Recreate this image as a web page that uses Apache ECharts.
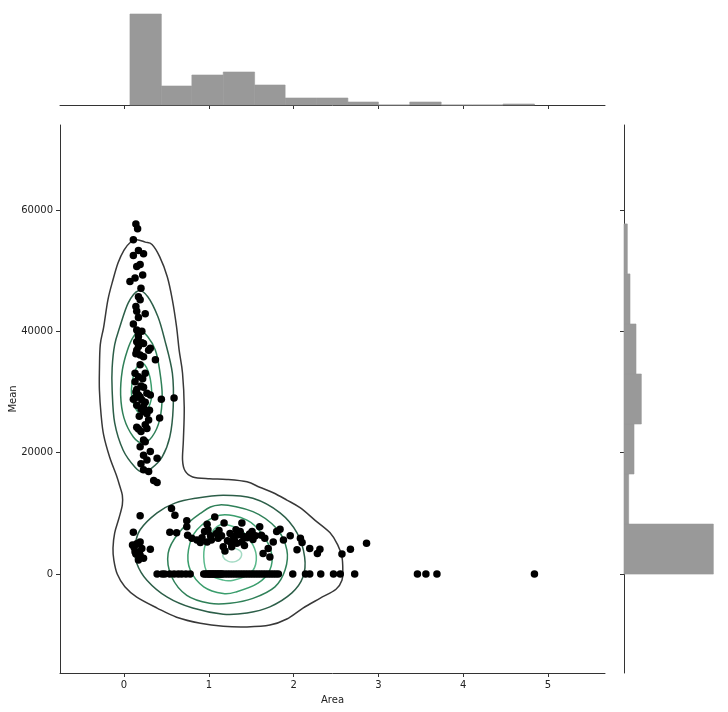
<!DOCTYPE html>
<html>
<head>
<meta charset="utf-8">
<script src="https://cdn.jsdelivr.net/npm/echarts@6/dist/echarts.min.js"></script>
<style>
  html, body { margin: 0; padding: 0; background: #fff; }
  #chart { width: 728px; height: 712px; }
</style>
</head>
<body>
<div id="chart"></div>
<script>
// axis ticks
const areaTicks = [0, 1, 2, 3, 4, 5];
const meanTicks = [0, 20000, 40000, 60000];

// marginal histograms (bin edges + counts)
const areaBinEdges = [0.07, 0.44, 0.80, 1.17, 1.54, 1.90, 2.27, 2.64, 3.00, 3.37, 3.74, 4.11, 4.47, 4.84];
const areaBinCounts = [91, 19, 30, 33, 20, 7, 7, 3, 0, 3, 0, 0, 1];
const meanBinEdges = [0, 8240, 16490, 24730, 32970, 41210, 49460, 57700];
const meanBinCounts = [134, 7, 15, 26, 18, 9, 5];

// scatter points [Area, Mean]
const lobePoints = [
  [0.14,57700],[0.16,56900],[0.11,55100],[0.17,53300],[0.23,52800],[0.11,52500],[0.19,51000],[0.15,50700],
  [0.22,49300],[0.13,48800],[0.07,48200],[0.20,47100],[0.17,45700],[0.19,45200],[0.14,44100],[0.15,43300],
  [0.25,42900],[0.17,42300],[0.11,41200],[0.15,40200],[0.21,40000],[0.17,39100],[0.15,38300],[0.21,38100],
  [0.17,37500],[0.31,37200],[0.23,38000],[0.15,36900],[0.29,36900],[0.19,36100],[0.14,36300],[0.37,35300],
  [0.13,33100],[0.25,33100],[0.13,31700],[0.15,30400],[0.27,29800],[0.17,29500],[0.31,29500],[0.11,28800],
  [0.21,28700],[0.44,28800],[0.59,29000],[0.23,27600],[0.23,26800],[0.42,25700],[0.29,25400],[0.25,24600],
  [0.15,24200],[0.27,24000],[0.17,23900],[0.23,22100],[0.19,21000],[0.31,20200],[0.23,19600],[0.39,19100],
  [0.27,18800],[0.23,17200],[0.29,16900],[0.35,15400],[0.39,15100],
  [0.17,32500],[0.20,31000],[0.14,30000],[0.23,30800],[0.19,29200],[0.25,28300],[0.15,27800],[0.20,27200],
  [0.27,26400],[0.13,29000],[0.22,32200],[0.18,26000],[0.30,27000],[0.20,23500],[0.25,21800],[0.20,18200],
  [0.19,34500],[0.23,35800],[0.17,39600]
];
const lowLeftPoints = [
  [0.19,9600],[0.11,6900],[0.10,4800],[0.19,5300],[0.31,4100],[0.13,3700],[0.19,3100],[0.23,2600],
  [0.17,2300],[0.12,4400],[0.15,5000],[0.14,3300],[0.21,4200],[0.18,3600],[0.56,10800],[0.60,9700],
  [0.54,6900],[0.62,6800]
];
const clusterPoints = [
  [0.74,8800],[0.74,7800],[0.75,6400],[0.80,5900],[0.86,5600],[0.98,8200],[1.07,9400],[1.18,8400],
  [0.99,7300],[0.98,5300],[1.03,5600],[1.09,6700],[1.11,5900],[1.17,4500],[1.19,3800],[1.25,6700],
  [1.29,6200],[1.33,5100],[1.27,4500],[1.39,8400],[1.37,7000],[1.41,6200],[1.39,5300],[1.51,7000],
  [1.52,5700],[1.60,7800],[1.62,6400],[1.66,5900],[1.64,3400],[1.72,2800],[1.76,5300],[1.70,4200],
  [1.80,7000],[1.84,7400],[1.88,5600],[1.96,6300],[2.04,4000],[2.08,5900],[2.10,5200],[2.19,4200],
  [2.28,3400],[2.31,4100],[2.57,3300],[2.67,4100],[2.86,5100],
  [1.30,5700],[1.35,6500],[1.45,6000],[1.22,5500],[1.32,7300],[1.48,6600],[1.26,5200],[1.42,4700],
  [1.15,6300],[1.55,6300],[0.92,6000],[0.95,7000],[1.02,6300],[1.12,7200],[0.90,5200]
];
// points lying on Mean = 0
const zeroRowArea = [
  0.39,0.45,0.48,0.54,0.59,0.64,0.68,0.73,0.78,
  0.94,0.96,0.98,1.00,1.01,1.03,1.04,1.06,1.07,1.09,1.10,1.12,1.13,1.15,1.16,1.19,1.22,1.25,1.28,1.31,
  1.34,1.37,1.40,1.43,1.46,1.49,1.52,1.55,1.58,1.61,1.64,1.67,1.70,1.73,1.76,1.79,1.82,
  1.99,2.14,2.19,2.32,2.47,2.55,2.72,3.46,3.56,3.69,4.84
];

// KDE contour lines [Area, Mean], closed loops
const contourOuter = [
  [0.15,55100],[0.25,54700],[0.33,54300],[0.42,52300],[0.51,49000],[0.57,45200],[0.62,40700],[0.65,36900],
  [0.69,33100],[0.71,27500],[0.70,22100],[0.69,18800],[0.72,17000],[0.81,16000],[1.01,15700],[1.21,15600],
  [1.45,15200],[1.60,14300],[1.76,13400],[1.92,12200],[2.08,10900],[2.25,8900],[2.43,6800],[2.52,4800],
  [2.57,2800],[2.58,700],[2.57,-1000],[2.50,-2500],[2.31,-4000],[2.11,-5600],[1.92,-7400],[1.72,-8400],
  [1.45,-8700],[1.17,-8600],[0.90,-8100],[0.62,-7100],[0.39,-5600],[0.15,-3800],[0.01,-2100],[-0.08,0],
  [-0.12,2300],[-0.13,4300],[-0.11,6800],[-0.06,9200],[-0.02,11400],[-0.02,13000],[-0.05,14500],[-0.09,16300],
  [-0.17,19300],[-0.24,22900],[-0.27,26200],[-0.29,30300],[-0.29,33600],[-0.28,37800],[-0.24,40700],
  [-0.19,45200],[-0.13,48500],[-0.07,51300],[0.00,53400],[0.07,54600]
];
const contourLobe2 = [
  [0.17,46700],[0.28,45700],[0.40,42400],[0.48,38600],[0.57,33100],[0.58,27500],[0.54,22600],[0.45,19300],
  [0.33,17500],[0.22,16800],[0.13,17600],[-0.01,20400],[-0.11,24900],[-0.14,30300],[-0.14,34000],
  [-0.11,37800],[-0.05,40700],[0.05,44700]
];
const contourLobe3 = [
  [0.19,40100],[0.28,39100],[0.37,36900],[0.42,33600],[0.45,29500],[0.42,25400],[0.33,22600],[0.22,21600],
  [0.11,22600],[0.00,25700],[-0.04,29500],[-0.02,33600],[0.04,36900],[0.11,39100]
];
const contourLobe4 = [
  [0.21,34800],[0.28,33600],[0.32,31200],[0.32,28700],[0.27,27000],[0.21,26400],[0.14,27200],[0.09,29400],
  [0.10,32000],[0.14,33800]
];
const contourBase2 = [
  [1.17,13000],[1.52,12500],[1.84,10100],[2.04,6800],[2.13,2800],[2.11,-500],[1.98,-3100],[1.72,-5400],
  [1.45,-6400],[1.17,-6600],[0.81,-5600],[0.51,-3800],[0.27,-1000],[0.15,1800],[0.13,4500],[0.19,7300],
  [0.39,10100],[0.60,11700],[0.84,12500]
];
const contourBase3 = [
  [1.13,11400],[1.52,10300],[1.80,7500],[1.92,4000],[1.90,700],[1.78,-2100],[1.52,-4000],[1.25,-4800],
  [1.01,-4800],[0.74,-3500],[0.56,-400],[0.52,3400],[0.64,6700],[0.90,10000]
];
const contourBase4 = [
  [1.13,9700],[1.45,8900],[1.64,6400],[1.74,3400],[1.72,700],[1.58,-1500],[1.33,-2900],[1.17,-3200],
  [0.94,-2100],[0.78,700],[0.76,4000],[0.86,7300]
];
const contourBase5 = [
  [1.13,8100],[1.37,7300],[1.52,4800],[1.56,2300],[1.49,100],[1.29,-1000],[1.17,-1000],[0.99,100],
  [0.94,2900],[0.98,5600]
];
const contourBase6 = [
  [1.18,3600],[1.27,4300],[1.37,3800],[1.38,2800],[1.32,2100],[1.23,2100],[1.17,2800]
];

const AREA_MIN = -0.755, AREA_MAX = 5.672;
const MEAN_MIN = -16300, MEAN_MAX = 74000;
const axisColor = '#333333';
const font = 'DejaVu Sans';

let myChart = echarts.init(document.getElementById('chart'), null, { renderer: 'canvas' });

// closed smooth curve through the traced points (Catmull-Rom -> bezier), placed with api.coord
function contour(points, color) {
  return {
    type: 'custom', xAxisIndex: 0, yAxisIndex: 0, data: [points[0]], silent: true, z: 2,
    renderItem: function (params, api) {
      let pts = points.map(p => api.coord(p));
      let n = pts.length;
      let d = 'M' + pts[0][0] + ' ' + pts[0][1];
      for (let i = 0; i < n; i++) {
        let p0 = pts[(i - 1 + n) % n], p1 = pts[i], p2 = pts[(i + 1) % n], p3 = pts[(i + 2) % n];
        let c1 = [p1[0] + (p2[0] - p0[0]) / 6, p1[1] + (p2[1] - p0[1]) / 6];
        let c2 = [p2[0] - (p3[0] - p1[0]) / 6, p2[1] - (p3[1] - p1[1]) / 6];
        d += ' C' + c1[0] + ' ' + c1[1] + ' ' + c2[0] + ' ' + c2[1] + ' ' + p2[0] + ' ' + p2[1];
      }
      d += ' Z';
      return { type: 'path', shape: { pathData: d }, style: { fill: null, stroke: color, lineWidth: 1.5 } };
    }
  };
}

const scatterData = lobePoints.concat(lowLeftPoints, clusterPoints, zeroRowArea.map(a => [a, 0]));

let topHist = [];
for (let i = 0; i < areaBinCounts.length; i++) {
  topHist.push([areaBinEdges[i], areaBinEdges[i + 1], areaBinCounts[i]]);
}
let rightHist = [];
for (let i = 0; i < meanBinCounts.length; i++) {
  rightHist.push([meanBinEdges[i], meanBinEdges[i + 1], meanBinCounts[i]]);
}

let options = {
  animation: false,
  backgroundColor: '#ffffff',
  textStyle: { fontFamily: font },
  grid: [
    { left: 60, top: 125, width: 545, height: 548, outerBoundsMode: 'none' },
    { left: 60, top: 9, width: 545, height: 96, outerBoundsMode: 'none' },
    { left: 624, top: 125, width: 96, height: 548, outerBoundsMode: 'none' }
  ],
  xAxis: [
    {
      gridIndex: 0, type: 'value', min: AREA_MIN, max: AREA_MAX,
      name: 'Area', nameLocation: 'middle', nameGap: 22,
      nameTextStyle: { color: '#222', fontSize: 10, fontFamily: font },
      axisLine: { show: true, onZero: false, lineStyle: { color: axisColor, width: 1 } },
      axisTick: { show: true, inside: false, length: 4, customValues: areaTicks, lineStyle: { color: axisColor } },
      axisLabel: { show: true, customValues: areaTicks, margin: 7, color: '#222', fontSize: 10, fontFamily: font },
      splitLine: { show: false }
    },
    {
      gridIndex: 1, type: 'value', min: AREA_MIN, max: AREA_MAX,
      axisLine: { show: true, onZero: false, lineStyle: { color: axisColor, width: 1 } },
      axisTick: { show: true, inside: false, length: 4, customValues: areaTicks, lineStyle: { color: axisColor } },
      axisLabel: { show: false },
      splitLine: { show: false }
    },
    {
      gridIndex: 2, type: 'value', min: 0, max: 144, show: false
    }
  ],
  yAxis: [
    {
      gridIndex: 0, type: 'value', min: MEAN_MIN, max: MEAN_MAX,
      name: 'Mean', nameLocation: 'middle', nameGap: 42, nameMoveOverlap: false,
      nameTextStyle: { color: '#222', fontSize: 10, fontFamily: font },
      axisLine: { show: true, onZero: false, lineStyle: { color: axisColor, width: 1 } },
      axisTick: { show: true, inside: false, length: 4, customValues: meanTicks, lineStyle: { color: axisColor } },
      axisLabel: { show: true, customValues: meanTicks, margin: 7, color: '#222', fontSize: 10, fontFamily: font,
                   formatter: v => String(v) },
      splitLine: { show: false }
    },
    {
      gridIndex: 1, type: 'value', min: 0, max: 96, show: false
    },
    {
      gridIndex: 2, type: 'value', min: MEAN_MIN, max: MEAN_MAX,
      axisLine: { show: true, onZero: false, lineStyle: { color: axisColor, width: 1 } },
      axisTick: { show: true, inside: false, length: 4, customValues: meanTicks, lineStyle: { color: axisColor } },
      axisLabel: { show: false },
      splitLine: { show: false }
    }
  ],
  series: [
    contour(contourOuter, '#383838'),
    contour(contourLobe2, '#2c5e48'),
    contour(contourLobe3, '#2f8058'),
    contour(contourLobe4, '#3a9d6c'),
    contour(contourBase2, '#2c5e48'),
    contour(contourBase3, '#2f8058'),
    contour(contourBase4, '#3a9d6c'),
    contour(contourBase5, '#5ab98b'),
    contour(contourBase6, '#a3dac3'),
    {
      type: 'scatter', xAxisIndex: 0, yAxisIndex: 0, data: scatterData,
      symbolSize: 7.5, itemStyle: { color: '#000000', opacity: 1 }, z: 3, silent: true
    },
    {
      type: 'custom', xAxisIndex: 1, yAxisIndex: 1, data: topHist, silent: true,
      renderItem: function (params, api) {
        let a = api.coord([api.value(0), api.value(2)]);
        let b = api.coord([api.value(1), 0]);
        return { type: 'rect', shape: { x: a[0], y: a[1], width: b[0] - a[0], height: b[1] - a[1] },
                 style: { fill: '#999999', stroke: '#999999', lineWidth: 0.6 } };
      }
    },
    {
      type: 'custom', xAxisIndex: 2, yAxisIndex: 2, data: rightHist, silent: true,
      encode: { x: 2, y: 0 },
      renderItem: function (params, api) {
        let a = api.coord([0, api.value(1)]);
        let b = api.coord([api.value(2), api.value(0)]);
        return { type: 'rect', shape: { x: a[0], y: a[1], width: b[0] - a[0], height: b[1] - a[1] },
                 style: { fill: '#999999', stroke: '#999999', lineWidth: 0.6 } };
      }
    }
  ]
};
myChart.setOption(options);
</script>
</body>
</html>
